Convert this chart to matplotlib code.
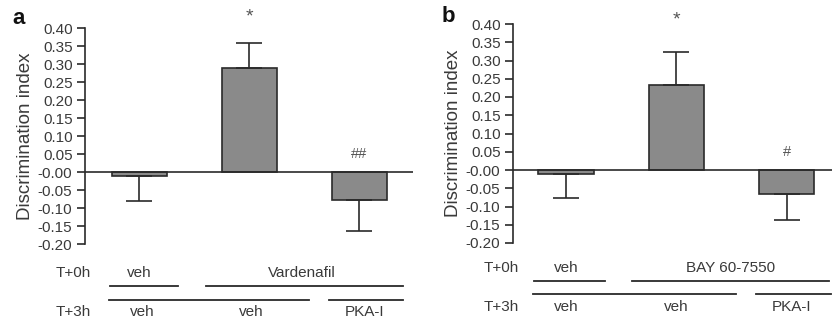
import matplotlib
matplotlib.use("Agg")
import matplotlib.pyplot as plt
import matplotlib.transforms as mtransforms

plt.rcParams['font.family'] = ['Liberation Sans', 'DejaVu Sans']

# Data
groups = ["veh/veh", "drug/veh", "drug/PKA-I"]
vals_a = [-0.010, 0.288, -0.077]
err_a = [0.070, 0.069, 0.088]
vals_b = [-0.010, 0.233, -0.067]
err_b = [0.068, 0.089, 0.070]
sig_a = ["", "*", "##"]
sig_b = ["", "*", "#"]
sig_y_a = [None, 0.43, 0.05]
sig_y_b = [None, 0.41, 0.05]
yticks = [0.40, 0.35, 0.30, 0.25, 0.20, 0.15, 0.10, 0.05, 0.00,
          -0.05, -0.10, -0.15, -0.20]
ytick_labels = ["0.40", "0.35", "0.30", "0.25", "0.20", "0.15", "0.10", "0.05",
                "-0.00", "-0.05", "-0.10", "-0.15", "-0.20"]
drug_a = "Vardenafil"
drug_b = "BAY 60-7550"
t3_labels = ["veh", "veh", "PKA-I"]

W, H = 832, 322
fig = plt.figure(figsize=(W / 100, H / 100), dpi=100)

TXT = "#3a3a3a"
BAR = "#8a8a8a"
EDGE = "#2a2a2a"
FS_ROW = 11


def make_panel(px_left, px_right, px_top, px_bot, xlim, vals, errs, sigs, sig_ys,
               letter, letter_xy, drug, rows):
    ax = fig.add_axes([px_left / W, 1 - px_bot / H, (px_right - px_left) / W,
                       (px_bot - px_top) / H])
    x = list(range(len(vals)))
    ax.bar(x, vals, width=0.5, color=BAR, edgecolor=EDGE, linewidth=1.2, zorder=2)
    for xi, v, e in zip(x, vals, errs):
        sign = 1 if v >= 0 else -1
        lo = [0] if sign > 0 else [e]
        hi = [e] if sign > 0 else [0]
        ax.errorbar([xi], [v], yerr=[lo, hi], fmt="none", ecolor=EDGE,
                    elinewidth=1.2, capsize=9.5, capthick=1.2, zorder=3)
    for xi, s, sy in zip(x, sigs, sig_ys):
        if s:
            fs = 14 if s == "*" else 10.5
            ax.text(xi, sy, s, ha="center", va="center", fontsize=fs,
                    color="#555555", clip_on=False)
    ax.axhline(0, color=EDGE, linewidth=1.2, zorder=4)
    ax.set_xlim(*xlim)
    ax.set_ylim(-0.20, 0.40)
    ax.set_yticks(yticks)
    ax.set_yticklabels(ytick_labels, fontsize=11, color=TXT)
    ax.tick_params(axis="y", direction="out", length=5.5, width=1.2, color=EDGE,
                   pad=3.5)
    ax.set_xticks([])
    for s in ["top", "right", "bottom"]:
        ax.spines[s].set_visible(False)
    ax.spines["left"].set_linewidth(1.2)
    ax.spines["left"].set_color(EDGE)
    ax.set_ylabel("Discrimination index", fontsize=13.5, color=TXT, labelpad=2.5)
    ax.patch.set_alpha(0)
    fig.text(letter_xy[0] / W, 1 - letter_xy[1] / H, letter, fontsize=16,
             fontweight="bold", ha="center", va="center", color="#111111")

    # treatment rows below axes
    tr = mtransforms.blended_transform_factory(ax.transData, fig.transFigure)
    (y_t0_txt, y_t0_line, y_t3_line, y_t3_txt, t0_lines, t3_lines, t3_pos,
     drug_x, tlabel_x) = rows
    fy = lambda p: 1 - p / H
    ax.text(tlabel_x, fy(y_t0_txt), "T+0h", transform=tr, ha="center", va="center",
            fontsize=FS_ROW, color=TXT, clip_on=False)
    ax.text(tlabel_x, fy(y_t3_txt), "T+3h", transform=tr, ha="center", va="center",
            fontsize=FS_ROW, color=TXT, clip_on=False)
    ax.text(0, fy(y_t0_txt), "veh", transform=tr, ha="center", va="center",
            fontsize=FS_ROW, color=TXT, clip_on=False)
    ax.text(drug_x, fy(y_t0_txt), drug, transform=tr, ha="center", va="center",
            fontsize=FS_ROW, color=TXT, clip_on=False)
    for (a, b) in t0_lines:
        ax.plot([a, b], [fy(y_t0_line)] * 2, transform=tr, color=EDGE, lw=1.3,
                clip_on=False)
    for (a, b) in t3_lines:
        ax.plot([a, b], [fy(y_t3_line)] * 2, transform=tr, color=EDGE, lw=1.3,
                clip_on=False)
    for xp, lab in zip(t3_pos, t3_labels):
        ax.text(xp, fy(y_t3_txt), lab, transform=tr, ha="center", va="center",
                fontsize=FS_ROW, color=TXT, clip_on=False)
    return ax


make_panel(85, 413, 28, 244, (-0.495, 2.49), vals_a, err_a, sig_a, sig_y_a,
           "a", (19, 18), drug_a,
           (273, 286, 300, 312,
            [(-0.27, 0.35), (0.61, 2.40)],
            [(-0.28, 1.54), (1.73, 2.40)],
            [0.03, 1.02, 2.05], 1.48, -0.60))

make_panel(513, 832, 24, 243, (-0.48, 2.41), vals_b, err_b, sig_b, sig_y_b,
           "b", (448, 16), drug_b,
           (268, 281, 294, 307,
            [(-0.29, 0.35), (0.60, 2.38)],
            [(-0.30, 1.54), (1.72, 2.40)],
            [0.0, 1.0, 2.04], 1.49, -0.59))

fig.savefig("out.png", dpi=100)
